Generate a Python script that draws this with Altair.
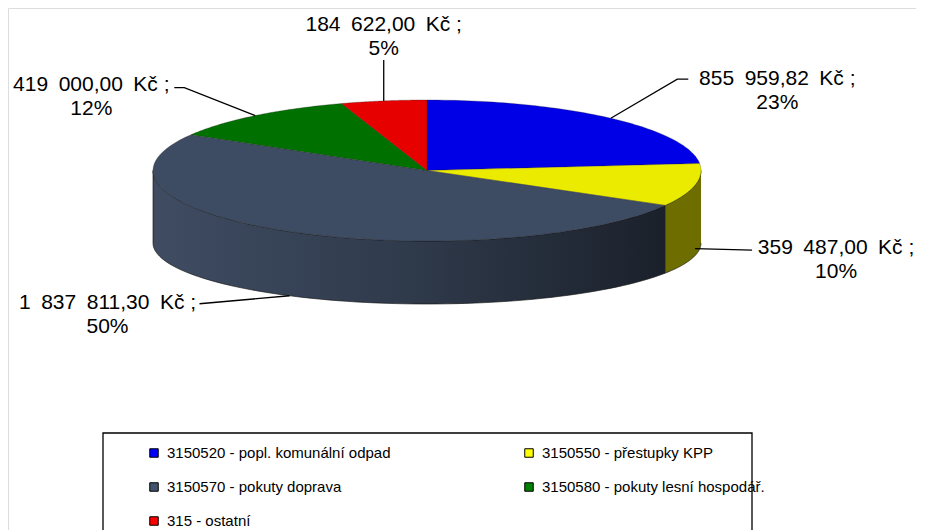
import altair as alt
import pandas as pd

# ---------------- data ----------------
categories = [
    "3150520 - popl. komunální odpad",
    "3150550 - přestupky KPP",
    "3150570 - pokuty doprava",
    "3150580 - pokuty lesní hospodář.",
    "315 - ostatní",
]
values = [855959.82, 359487.00, 1837811.30, 419000.00, 184622.00]
percent_labels = [23, 10, 50, 12, 5]

# ---------------- styles ----------------
top_colors = ["#0000E6", "#EBEB00", "#3E4C63", "#007000", "#E60000"]
side_colors = ["#00007A", "#6E6E00", "#2C3646", "#003800", "#700000"]
legend_colors = ["#0000FF", "#FFFF00", "#44536D", "#008000", "#FF0000"]
FONT = "Liberation Sans"

# ---------------- layout (page pixels) ----------------
W, H = 908, 522
CX, CY, RX, RY = 427, 170.5, 274, 70.5      # top ellipse
CYB, RYB = 243, 61                          # bottom ellipse
N = 72                                      # points per arc
# leader-line layout per slice: anchor depth on the side, elbow offset, horizontal tail, text offset
rim_depth = [0, 0.9, 1.0, 0, 0]
leader_dx = [66.5, 57, -90, -71, 0]
leader_dy = [-39, 1.5, 8, -28, -41]
leader_tail = [11, 0, 0, -10, 0]
text_dx = [89, 84, -92, -83, 0]
text_dy = [0, -2, -1, -3, -35]
LINE2 = 24


def fmt_czk(v):
    s = f"{v:,.2f}".replace(",", "\u2002").replace(".", ",")
    return s + "\u2002Kč ;"


df = pd.DataFrame({
    "cat": categories,
    "value": values,
    "idx": list(range(len(values))),
    "vtext": [fmt_czk(v) for v in values],
    "ptext": [f"{p}%" for p in percent_labels],
    "rdep": rim_depth,
    "ldx": leader_dx, "ldy": leader_dy, "ltail": leader_tail,
    "tdx": text_dx, "tdy": text_dy,
})

xs = alt.Scale(domain=[8, 8 + W], nice=False, zero=False)
ys = alt.Scale(domain=[8, 8 + H], nice=False, zero=False, reverse=True)


def X(f):
    return alt.X(f, type="quantitative", scale=xs, axis=None)


def Y(f):
    return alt.Y(f, type="quantitative", scale=ys, axis=None)


def base():
    return (
        alt.Chart(df)
        .transform_joinaggregate(total="sum(value)")
        .transform_window(cum="sum(value)", sort=[alt.SortField("idx", order="ascending")], frame=[None, 0])
        .transform_calculate(
            a0="2*PI*(datum.cum-datum.value)/datum.total",
            a1="2*PI*datum.cum/datum.total",
        )
    )


# ---- sides of the 3D pie (only the front half is visible) ----
def sides():
    return (
        base()
        .transform_calculate(sa="max(datum.a0, PI/2)", sb="min(datum.a1, 3*PI/2)")
        .transform_filter("datum.sb > datum.sa")
        .transform_calculate(steps=f"sequence(0, {2 * N + 2})")
        .transform_flatten(["steps"])
        .transform_calculate(
            k=f"datum.steps <= {N} ? datum.steps : {2 * N + 1} - datum.steps",
        )
        .transform_calculate(ang=f"datum.sa + (datum.sb-datum.sa)*datum.k/{N}")
        .transform_calculate(
            px=f"{CX} + {RX}*sin(datum.ang)",
            py=f"datum.steps <= {N} ? {CY} - {RY}*cos(datum.ang) : {CYB} - {RYB}*cos(datum.ang)",
        )
    )


side_plain = (
    sides()
    .transform_filter(f"datum.cat != '{categories[2]}'")
    .mark_line(stroke="#111111", strokeWidth=0.8, strokeOpacity=0.8)
    .encode(
        x=X("px"), y=Y("py"), order=alt.Order("steps:Q"),
        fill=alt.Fill("cat:N", scale=alt.Scale(domain=categories, range=side_colors), legend=None),
        detail="cat:N",
    )
)

side_grey = (
    sides()
    .transform_filter(f"datum.cat == '{categories[2]}'")
    .mark_line(
        stroke="#111111", strokeWidth=0.8, strokeOpacity=0.8,
        fill=alt.Gradient(
            gradient="linear",
            stops=[
                alt.GradientStop(color="#3F4C62", offset=0),
                alt.GradientStop(color="#2F3A4B", offset=0.5),
                alt.GradientStop(color="#1B212B", offset=1),
            ],
            x1=0, x2=1, y1=0, y2=0,
        ),
    )
    .encode(x=X("px"), y=Y("py"), order=alt.Order("steps:Q"), detail="cat:N")
)

# ---- top surface wedges ----
tops = (
    base()
    .transform_calculate(steps=f"sequence(0, {N + 3})")
    .transform_flatten(["steps"])
    .transform_calculate(ang=f"datum.a0 + (datum.a1-datum.a0)*clamp(datum.steps-1, 0, {N})/{N}")
    .transform_calculate(
        px=f"(datum.steps == 0 || datum.steps == {N + 2}) ? {CX} : {CX} + {RX}*sin(datum.ang)",
        py=f"(datum.steps == 0 || datum.steps == {N + 2}) ? {CY} : {CY} - {RY}*cos(datum.ang)",
    )
    .mark_line(stroke="#1a1a1a", strokeWidth=0.6, strokeOpacity=0.45)
    .encode(
        x=X("px"), y=Y("py"), order=alt.Order("steps:Q"),
        fill=alt.Fill("cat:N", scale=alt.Scale(domain=categories, range=top_colors), legend=None),
        detail="cat:N",
    )
)


# ---- leader lines and labels ----
def anchors():
    return (
        base()
        .transform_calculate(mid="(datum.a0+datum.a1)/2")
        .transform_calculate(
            rimx=f"{CX} + {RX}*sin(datum.mid)",
            rtop=f"{CY} - {RY}*cos(datum.mid)",
            rbot=f"{CYB} - {RYB}*cos(datum.mid)",
        )
        .transform_calculate(rimy="datum.rtop + datum.rdep*(datum.rbot - datum.rtop)")
        .transform_calculate(
            ex="datum.rimx + datum.ldx + datum.ltail",
            ey="datum.rimy + datum.ldy",
        )
    )


leaders = (
    anchors()
    .transform_calculate(steps="sequence(0, 3)")
    .transform_flatten(["steps"])
    .transform_calculate(
        px="datum.steps == 0 ? datum.rimx : (datum.steps == 1 ? datum.rimx + datum.ldx : datum.ex)",
        py="datum.steps == 0 ? datum.rimy : datum.ey",
    )
    .mark_line(color="black", strokeWidth=1.3)
    .encode(x=X("px"), y=Y("py"), order=alt.Order("steps:Q"), detail="cat:N")
)

label_val = (
    anchors()
    .transform_calculate(tx="datum.ex + datum.tdx", ty="datum.ey + datum.tdy")
    .mark_text(font=FONT, fontSize=21, color="black", align="center", baseline="middle")
    .encode(x=X("tx"), y=Y("ty"), text="vtext:N")
)

label_pct = (
    anchors()
    .transform_calculate(tx="datum.ex + datum.tdx", ty=f"datum.ey + datum.tdy + {LINE2}")
    .mark_text(font=FONT, fontSize=21, color="black", align="center", baseline="middle")
    .encode(x=X("tx"), y=Y("ty"), text="ptext:N")
)

# ---- legend (drawn in a framed box below the pie) ----
LEG_X0, LEG_Y0, LEG_COL, LEG_ROW = 154, 453, 375, 34
legend_box = (
    alt.Chart(pd.DataFrame({"k": [0]}))
    .mark_rect(fillOpacity=0, stroke="black", strokeWidth=1.3)
    .encode(
        x=alt.value(103 - 8), x2=alt.value(752 - 8),
        y=alt.value(433 - 8), y2=alt.value(H + 30),
    )
)

leg_base = alt.Chart(df).transform_calculate(
    row="floor(datum.idx / 2)", col="datum.idx % 2"
).transform_calculate(
    mx=f"{LEG_X0} + datum.col*{LEG_COL}",
    my=f"{LEG_Y0} + datum.row*{LEG_ROW}",
)

leg_marks = leg_base.mark_square(size=72, stroke="black", strokeWidth=1, opacity=1).encode(
    x=X("mx"), y=Y("my"),
    fill=alt.Fill("cat:N", scale=alt.Scale(domain=categories, range=legend_colors), legend=None),
)

leg_text = leg_base.transform_calculate(lx="datum.mx + 13").mark_text(
    font=FONT, fontSize=15, color="black", align="left", baseline="middle"
).encode(x=X("lx"), y=Y("my"), text="cat:N")

chart = (
    alt.layer(side_plain, side_grey, tops, leaders, label_val, label_pct,
              legend_box, leg_marks, leg_text)
    .resolve_scale(fill="independent")
    .properties(width=W, height=H, padding=0, autosize=alt.AutoSizeParams(type="none"))
    .configure_view(strokeWidth=0)
    .configure(background="white")
)

chart.save("out.html", embed_options={"renderer": "svg", "actions": False})
